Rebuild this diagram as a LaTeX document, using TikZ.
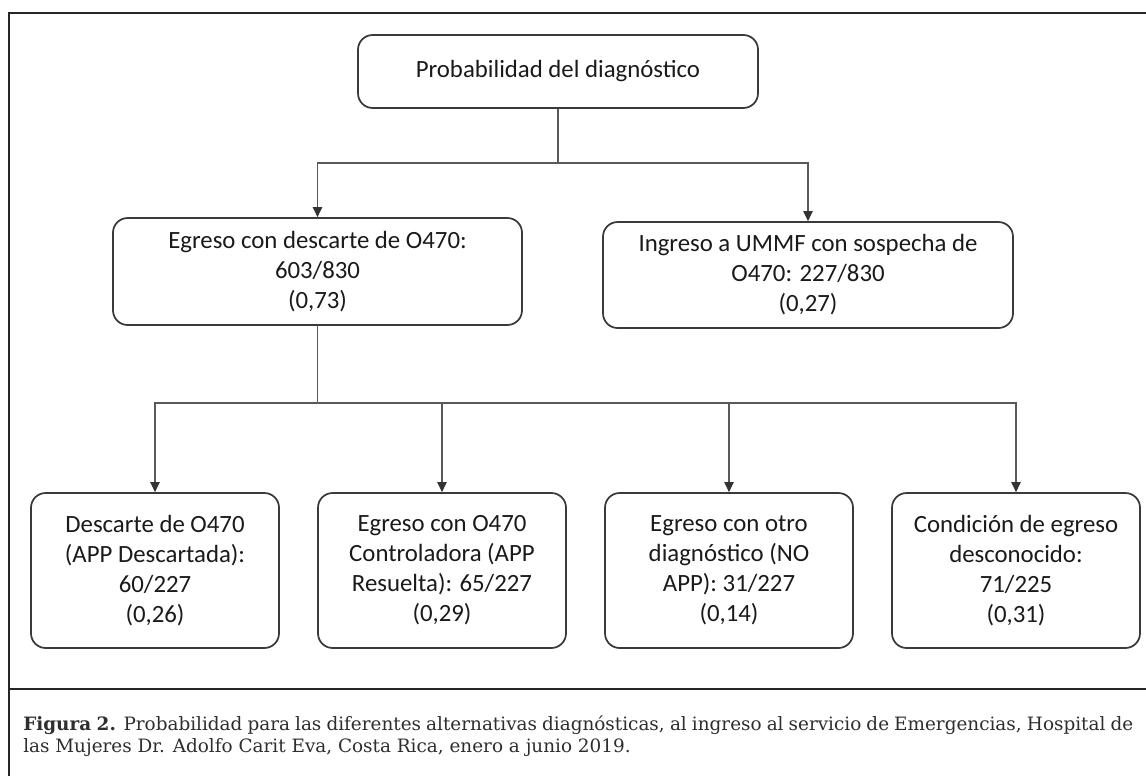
\documentclass[tikz,border=0pt]{standalone}
\usepackage{fontspec}
\setmainfont{Carlito}
\newfontfamily\capfont{DejaVu Serif}
\usetikzlibrary{arrows.meta}
\definecolor{framec}{HTML}{262626}
\definecolor{boxc}{HTML}{3A3A3A}
\definecolor{connc}{HTML}{595959}
\definecolor{tipc}{HTML}{333333}
\definecolor{txtc}{HTML}{1A1A1A}
\definecolor{capc}{HTML}{2E2E2E}
\tikzset{
  frameline/.style={draw=framec, line width=2pt},
  probbox/.style={draw=boxc, line width=1.3pt, rounded corners=11pt, align=center,
    text=txtc, inner sep=0pt, font=\fontsize{18.6}{22.5}\selectfont},
  conn/.style={draw=connc, line width=0.8pt},
  arr/.style={conn, -{Triangle[width=7pt,length=7.5pt,fill=tipc,color=tipc]}},
}
\begin{document}
\begin{tikzpicture}[x=0.75pt,y=-0.75pt]
\clip (0,0) rectangle (1146,775);
\useasboundingbox (0,0) rectangle (1146,775);
\fill[white] (0,0) rectangle (1146,775);
% outer frame and caption separator
\draw[frameline] (1160,13) -- (9,13) -- (9,790);
\draw[frameline] (9,689) -- (1160,689);
% nodes
\node[probbox, minimum width=300pt, minimum height=54.75pt] (top) at (558,71.5) {Probabilidad del diagnóstico};
\node[probbox, minimum width=306.75pt, minimum height=80.25pt] (egreso) at (317.5,271.5) {Egreso con descarte de O470:\\603/830\\(0,73)};
\node[probbox, minimum width=307.5pt, minimum height=79.5pt] (ingreso) at (808,275) {Ingreso a UMMF con sospecha de\\O470: 227/830\\(0,27)};
\node[probbox, minimum width=186pt, minimum height=116.25pt] (b1) at (155,570.5) {Descarte de O470\\(APP Descartada):\\60/227\\(0,26)};
\node[probbox, minimum width=186pt, minimum height=116.25pt] (b2) at (442,570.5) {Egreso con O470\\Controladora (APP\\Resuelta): 65/227\\(0,29)};
\node[probbox, minimum width=186pt, minimum height=116.25pt] (b3) at (729,570.5) {Egreso con otro\\diagnóstico (NO\\APP): 31/227\\(0,14)};
\node[probbox, minimum width=186pt, minimum height=116.25pt] (b4) at (1016,570.5) {Condición de egreso\\desconocido:\\71/225\\(0,31)};
% junctions
\coordinate (j1) at (558,163);
\coordinate (j2) at (317.5,403);
% connectors
\draw[arr] (top.south) -- (j1) -| (egreso.north);
\draw[arr] (j1) -| (ingreso.north);
\draw[arr] (egreso.south) -- (j2) -| (b1.north);
\draw[arr] (j2) -| (b2.north);
\draw[arr] (j2) -| (b3.north);
\draw[arr] (j2) -| (b4.north);
% caption
\node[anchor=north west, inner sep=0pt, align=left, text=capc,
  font=\capfont\fontsize{13.8}{15.8}\selectfont] (caption) at (23,716)
  {\makebox[832.5pt][s]{\textbf{Figura 2.} Probabilidad para las diferentes alternativas diagnósticas, al ingreso al servicio de Emergencias, Hospital de}\\
   las Mujeres Dr. Adolfo Carit Eva, Costa Rica, enero a junio 2019.};
\end{tikzpicture}
\end{document}
